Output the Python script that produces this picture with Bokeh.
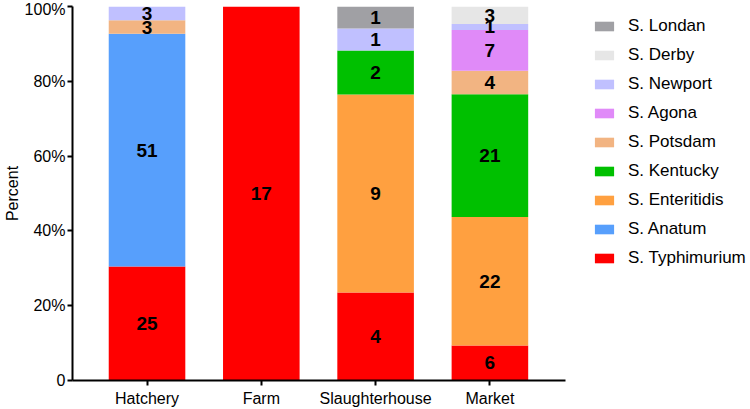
from bokeh.plotting import figure
from bokeh.models import Range1d, FixedTicker, Legend, LegendItem, ColumnDataSource
from bokeh.core.properties import value
from bokeh.embed import file_html
from bokeh.resources import INLINE

categories = ["Hatchery", "Farm", "Slaughterhouse", "Market"]
serotypes = ["S. Typhimurium", "S. Anatum", "S. Enteritidis", "S. Kentucky",
             "S. Potsdam", "S. Agona", "S. Newport", "S. Derby", "S. Londan"]
colors = ["#FF0000", "#579FFC", "#FFA040", "#00C000",
          "#F2B482", "#E08AF8", "#C0C0FF", "#E6E6E6", "#A0A0A4"]
# counts per serotype (bottom to top), one value per category
typhimurium = [25, 17, 4, 6]
anatum = [51, 0, 0, 0]
enteritidis = [0, 0, 9, 22]
kentucky = [0, 0, 2, 21]
potsdam = [3, 0, 0, 4]
agona = [0, 0, 0, 7]
newport = [3, 0, 1, 1]
derby = [0, 0, 0, 3]
londan = [0, 0, 1, 0]
counts = [typhimurium, anatum, enteritidis, kentucky, potsdam, agona, newport, derby, londan]
y_ticks = [0, 20, 40, 60, 80, 100]
y_tick_labels = ["0", "20%", "40%", "60%", "80%", "100%"]

xs = list(range(len(categories)))
totals = [sum(c[i] for c in counts) for i in xs]

FONT = "Liberation Sans"
X0, X1, XB = -0.652, 5.28, 3.66

p = figure(width=750, height=409, output_backend="svg", toolbar_location=None,
           x_range=Range1d(X0, X1), y_range=Range1d(0, 100),
           min_border_top=6, min_border_right=0, min_border_left=66, min_border_bottom=0)
p.outline_line_color = None
p.xgrid.visible = False
p.ygrid.visible = False

bottoms = [0.0] * len(xs)
renderers = []
lab_x, lab_y, lab_t = [], [], []
for name, col, cnt in zip(serotypes, colors, counts):
    pct = [100.0 * c / t for c, t in zip(cnt, totals)]
    tops = [b + v for b, v in zip(bottoms, pct)]
    src = ColumnDataSource(dict(x=xs, bottom=bottoms, top=tops))
    r = p.vbar(x="x", bottom="bottom", top="top", width=0.67, source=src,
               fill_color=col, line_color=None)
    renderers.append((name, r))
    for i in xs:
        if cnt[i] > 0:
            lab_x.append(xs[i])
            lab_y.append((bottoms[i] + tops[i]) / 2)
            lab_t.append(str(cnt[i]))
    bottoms = tops

p.text(x=lab_x, y=lab_y, text=lab_t, text_align="center", text_baseline="middle",
       text_font=value(FONT), text_font_style="bold", text_font_size="19px",
       text_color="black")

# axes
p.xaxis.axis_label = None
p.xaxis.ticker = FixedTicker(ticks=xs)
p.xaxis.major_label_overrides = {i: c for i, c in zip(xs, categories)}
p.xaxis.bounds = (X0, XB)
p.xaxis.axis_line_width = 2
p.xaxis.axis_line_color = "black"
p.xaxis.major_tick_line_width = 2
p.xaxis.major_tick_out = 5
p.xaxis.major_tick_in = 0
p.xaxis.minor_tick_line_color = None
p.xaxis.major_label_text_font = FONT
p.xaxis.major_label_text_font_size = "16px"
p.xaxis.major_label_text_color = "black"
p.xaxis.major_label_standoff = 4

p.yaxis.ticker = FixedTicker(ticks=y_ticks)
p.yaxis.major_label_overrides = {t: l for t, l in zip(y_ticks, y_tick_labels)}
p.yaxis.bounds = (0, 100)
p.yaxis.axis_line_width = 2
p.yaxis.axis_line_color = "black"
p.yaxis.major_tick_line_width = 2
p.yaxis.major_tick_out = 5
p.yaxis.major_tick_in = 0
p.yaxis.minor_tick_line_color = None
p.yaxis.major_label_text_font = FONT
p.yaxis.major_label_text_font_size = "16px"
p.yaxis.major_label_text_color = "black"
p.yaxis.major_label_standoff = 2
p.yaxis.axis_label = "Percent"
p.yaxis.axis_label_text_font = FONT
p.yaxis.axis_label_text_font_size = "16px"
p.yaxis.axis_label_text_font_style = "normal"
p.yaxis.axis_label_text_color = "black"
p.yaxis.axis_label_standoff = 1

items = [LegendItem(label=n, renderers=[r]) for n, r in reversed(renderers)]
legend = Legend(items=items, location=(520, 109), padding=0, margin=0,
                border_line_alpha=0, background_fill_alpha=0,
                glyph_width=24, glyph_height=12, label_height=26, spacing=3,
                label_standoff=12, label_text_font=FONT,
                label_text_font_size="17px", label_text_color="black")
p.add_layout(legend)

open("out.html", "w").write(file_html(p, INLINE))
